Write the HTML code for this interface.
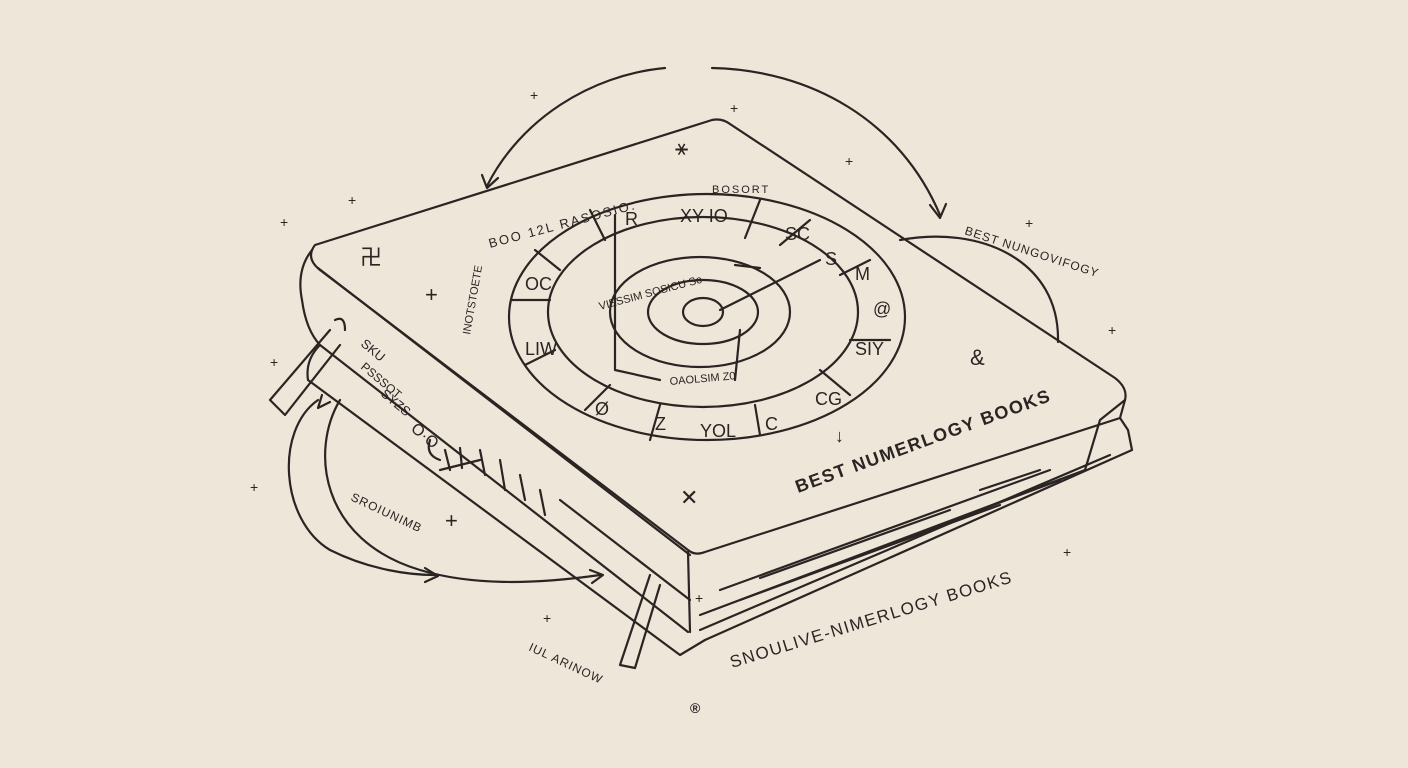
<!DOCTYPE html>
<html><head><meta charset="utf-8"><style>
html,body{margin:0;padding:0;background:#efe6da;}
svg{display:block}
text{font-family:"Liberation Sans",sans-serif;fill:#2a2522;}
</style></head><body>
<svg width="1408" height="768" viewBox="0 0 1408 768" xmlns="http://www.w3.org/2000/svg">
<rect width="1408" height="768" fill="#efe6da"/>
<g fill="none" stroke="#2a2522" stroke-width="2.2" stroke-linecap="round" stroke-linejoin="round">
<path d="M487 186 C520 120 590 75 665 68"/>
<path d="M482 175 L487 188 L498 178"/>
<path d="M712 68 C810 70 900 120 940 215"/>
<path d="M930 205 L940 218 L946 204"/>
<path d="M900 240 C980 225 1060 260 1058 342"/>
<path d="M315 245 L712 120 Q722 118 730 124 L1115 378 Q1128 388 1125 400 L1120 418 L705 552 Q695 556 688 550 L320 270 Q305 258 315 245 Z"/>
<path d="M312 250 Q296 270 302 300 Q306 330 320 345 L688 632"/>
<path d="M318 268 L690 555"/>
<path d="M688 552 L690 632"/>
<path d="M320 345 Q305 360 308 380 L680 655 L705 640"/>
<path d="M1120 418 L1128 430 L1132 450 L705 640"/>
<path d="M1125 400 L1100 420 L1085 470"/>
<path d="M1085 470 L700 615"/>
<path d="M1110 455 L700 630"/>
<path d="M720 590 L1050 470 M740 600 L1000 505 M760 578 L950 510 M900 540 L1060 480 M980 490 L1040 470"/>
<ellipse cx="707" cy="317" rx="198" ry="123"/>
<ellipse cx="703" cy="312" rx="155" ry="95"/>
<ellipse cx="700" cy="312" rx="90" ry="55"/>
<ellipse cx="703" cy="312" rx="55" ry="32"/>
<ellipse cx="703" cy="312" rx="20" ry="14"/>
<path d="M535 250 L560 270 M590 210 L605 240 M760 200 L745 238 M810 220 L780 245 M870 260 L840 275 M890 340 L850 340 M850 395 L820 370 M760 435 L755 405 M650 440 L660 405 M585 410 L610 385 M525 365 L555 350 M512 300 L550 300"/>
<path d="M615 215 L615 370 L660 380"/>
<path d="M720 310 L820 260 M735 265 L760 268 M740 330 L735 380"/>
<path d="M330 330 L270 400 L285 415 L340 345"/>
<path d="M650 575 L620 665 L635 668 L660 585"/>
<path d="M335 320 Q345 315 345 330"/>
<path d="M318 400 C275 430 280 520 330 550 C370 570 410 575 435 575"/>
<path d="M425 568 L438 576 L425 582"/>
<path d="M340 400 C310 450 320 540 420 570 C470 585 530 585 600 575"/>
<path d="M590 570 L603 575 L592 583"/>
<path d="M330 402 L318 408 L322 395"/>
<path d="M440 470 L480 460 M445 450 L450 470 M460 448 L462 468 M480 450 L485 475 M500 460 L505 490 M520 475 L525 500 M540 490 L545 515 M560 500 L690 600"/>
<path d="M430 440 Q425 455 440 460"/>
</g>
<g font-size="15">
<text x="360" y="265" font-size="22">卍</text>
<text x="675" y="155" font-size="22">⚹</text>
<text x="425" y="302" font-size="22">+</text>
<text x="680" y="505" font-size="22">✕</text>
<text x="445" y="528" font-size="22">+</text>
<text x="970" y="365" font-size="22">&amp;</text>
<text x="835" y="442" font-size="18">↓</text>
<text transform="translate(490,248) rotate(-15)" font-size="13" letter-spacing="2">BOO 12L RASOSIO:</text>
<text x="712" y="193" font-size="11" letter-spacing="2">BOSORT</text>
<text transform="translate(964,234) rotate(18)" font-size="12" letter-spacing="1">BEST NUNGOVIFOGY</text>
<text transform="translate(798,493) rotate(-20)" font-size="18" letter-spacing="1.5" font-weight="bold">BEST NUMERLOGY BOOKS</text>
<text transform="translate(732,668) rotate(-17)" font-size="17" letter-spacing="1.5">SNOULIVE-NIMERLOGY BOOKS</text>
<text transform="translate(350,500) rotate(25)" font-size="12" letter-spacing="1">SROIUNIMB</text>
<text transform="translate(528,650) rotate(25)" font-size="12" letter-spacing="1">IUL ARINOW</text>
<text transform="translate(600,310) rotate(-15)" font-size="11">VIESSIM SOSICU So</text>
<text transform="translate(670,385) rotate(-5)" font-size="11">OAOLSIM Z0</text>
<text transform="translate(470,335) rotate(-80)" font-size="11">INOTSTOETE</text>
<text x="525" y="290" font-size="18">OC</text>
<text x="625" y="225" font-size="18">R</text>
<text x="680" y="222" font-size="18">XY  IO</text>
<text x="785" y="240" font-size="18">SC</text>
<text x="825" y="265" font-size="18">S</text>
<text x="855" y="280" font-size="18">M</text>
<text x="873" y="315" font-size="18">@</text>
<text x="855" y="355" font-size="18">SIY</text>
<text x="815" y="405" font-size="18">CG</text>
<text x="765" y="430" font-size="18">C</text>
<text x="700" y="437" font-size="18">YOL</text>
<text x="655" y="430" font-size="18">Z</text>
<text x="595" y="415" font-size="18">Ø</text>
<text x="525" y="355" font-size="18">LIW</text>
<text x="690" y="713" font-size="14" font-weight="bold">®</text>
<text transform="translate(360,345) rotate(40)" font-size="13">SKU</text>
<text transform="translate(360,368) rotate(40)" font-size="12">PSSSOT</text>
<text transform="translate(380,395) rotate(40)" font-size="13">SYZS</text>
<text transform="translate(410,430) rotate(40)" font-size="16">O·O</text>
</g>
<g font-size="14" fill="#2a2522">
<text x="530" y="100">+</text><text x="730" y="113">+</text><text x="845" y="166">+</text>
<text x="348" y="205">+</text><text x="280" y="227">+</text><text x="1025" y="228">+</text>
<text x="1108" y="335">+</text><text x="270" y="367">+</text><text x="250" y="492">+</text>
<text x="1063" y="557">+</text><text x="543" y="623">+</text><text x="695" y="603">+</text>
</g>
</svg>
</body></html>
